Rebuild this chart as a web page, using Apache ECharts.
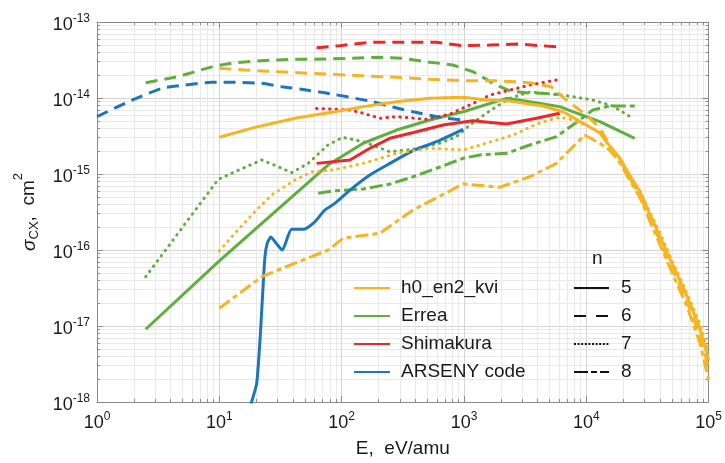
<!DOCTYPE html>
<html>
<head>
<meta charset="utf-8">
<title>Charge-exchange cross sections</title>
<script src="https://cdn.jsdelivr.net/npm/echarts@6/dist/echarts.min.js"></script>
<style>
  html, body { margin: 0; padding: 0; background: #ffffff; }
  #chart { width: 725px; height: 463px; }
</style>
</head>
<body>
<div id="chart"></div>
<script>
// Calculation methods (colour) and principal quantum number n (line style)
const methods = ['h0_en2_kvi', 'Errea', 'Shimakura', 'ARSENY code'];
const levels = ['5', '6', '7', '8'];

// Decade exponents used for the tick labels 10^k
const xExponents = [0, 1, 2, 3, 4, 5];
const yExponents = [-18, -17, -16, -15, -14, -13];

// Cross sections: [E (eV/amu), sigma_CX (cm^2)]
const kvi_n5 = [[10, 3.04e-15], [19.5, 4.11e-15], [41.5, 5.41e-15], [88, 6.6e-15], [150, 7.7e-15],
  [281, 8.9e-15], [526, 9.9e-15], [984, 1.02e-14], [1527, 9.4e-15], [2367, 9.1e-15], [4405, 7.85e-15],
  [6450, 6.6e-15], [1.0e4, 4.41e-15], [1.29e4, 3.46e-15], [1.55e4, 2.34e-15], [1.88e4, 1.62e-15],
  [2.26e4, 9.7e-16], [2.73e4, 5.97e-16], [3.3e4, 2.98e-16], [3.98e4, 1.53e-16], [5.08e4, 6.35e-17],
  [6.58e4, 2.56e-17], [8.44e4, 9.4e-18], [1e5, 3.57e-18]];
const kvi_n6 = [[10, 2.46e-14], [16.2, 2.33e-14], [30.3, 2.22e-14], [56.8, 2.11e-14], [150, 1.96e-14],
  [281, 1.87e-14], [526, 1.76e-14], [984, 1.69e-14], [1842, 1.69e-14], [3451, 1.59e-14], [5150, 1.41e-14],
  [6880, 9.4e-15], [1.0e4, 5.97e-15], [1.29e4, 4.03e-15], [1.55e4, 2.41e-15], [1.88e4, 1.53e-15],
  [2.26e4, 8.86e-16], [2.73e4, 5.29e-16], [3.3e4, 2.64e-16], [3.98e4, 1.35e-16], [5.08e4, 5.45e-17],
  [6.58e4, 2.2e-17], [8.44e4, 7.6e-18], [1e5, 2.8e-18]];
const kvi_n7 = [[10, 9.7e-17], [13.4, 1.66e-16], [19.5, 3.19e-16], [26.7, 5.3e-16], [41.5, 8.3e-16],
  [56.8, 1.07e-15], [84.7, 1.13e-15], [150, 1.38e-15], [281, 1.87e-15], [526, 2.18e-15], [984, 2.07e-15],
  [1527, 2.54e-15], [2518, 3.26e-15], [3911, 4.55e-15], [6063, 5.6e-15], [7740, 5.14e-15],
  [1.07e4, 4.19e-15], [1.29e4, 3.57e-15], [1.55e4, 2.27e-15], [1.88e4, 1.58e-15], [2.26e4, 9.4e-16],
  [2.73e4, 6.16e-16], [3.3e4, 3.16e-16], [3.98e4, 1.72e-16], [5.08e4, 6.95e-17], [6.58e4, 2.8e-17],
  [8.44e4, 1.095e-17], [1e5, 4.55e-18]];
const kvi_n8 = [[10, 1.71e-17], [22.2, 4.45e-17], [41.5, 6.7e-17], [77.6, 1.0e-16], [103, 1.43e-16],
  [205, 1.66e-16], [384, 3.36e-16], [984, 7.4e-16], [1963, 6.7e-16], [3451, 9.2e-16], [5699, 1.38e-15],
  [7316, 2.07e-15], [9700, 3.26e-15], [1.29e4, 2.54e-15], [1.55e4, 2.07e-15], [1.88e4, 1.4e-15],
  [2.26e4, 8.34e-16], [2.73e4, 4.98e-16], [3.3e4, 2.41e-16], [3.98e4, 1.2e-16], [5.08e4, 4.83e-17],
  [6.58e4, 1.89e-17], [8.44e4, 6.16e-18], [1e5, 1.95e-18]];

const errea_n5 = [[2.5, 9.06e-18], [10, 7.2e-17], [77.2, 1.31e-15], [150, 2.54e-15], [281, 3.79e-15],
  [526, 5.14e-15], [984, 6.6e-15], [2225, 9.9e-15], [3451, 8.9e-15], [6063, 7.7e-15], [7740, 6.6e-15],
  [1.29e4, 4.88e-15], [2.49e4, 2.95e-15]];
const errea_n6 = [[2.5, 1.59e-14], [4.59, 1.91e-14], [9.2, 2.64e-14], [13.4, 2.91e-14], [22.2, 3.1e-14],
  [41.5, 3.23e-14], [80, 3.26e-14], [205, 3.44e-14], [316, 3.33e-14], [494, 3.0e-14], [810, 2.72e-14],
  [1180, 2.22e-14], [1527, 1.76e-14], [1718, 1.56e-14], [2367, 1.24e-14], [3243, 1.17e-14],
  [4720, 1.15e-14], [6063, 1.11e-14]];
const errea_n7 = [[2.5, 4.45e-17], [9.8, 8.5e-16], [13.4, 1.07e-15], [22.2, 1.53e-15], [30.3, 1.25e-15],
  [39, 1.04e-15], [53.2, 1.38e-15], [77.2, 2.41e-15], [102, 3.04e-15], [150, 2.66e-15], [248, 1.96e-15],
  [382, 2.11e-15], [634, 2.54e-15], [868, 3.1e-15], [1115, 4.41e-15], [1527, 6.3e-15], [1842, 7.7e-15],
  [2367, 9.9e-15], [3451, 1.2e-14], [5024, 1.13e-14], [7316, 1.06e-14], [1.13e4, 9.4e-15],
  [1.64e4, 7.85e-15], [2.4e4, 5.41e-15]];
const errea_n8 = [[64.3, 5.57e-16], [88, 6.03e-16], [150, 6.35e-16], [248, 7.38e-16], [384, 9.2e-16],
  [596, 1.19e-15], [984, 1.61e-15], [1346, 1.78e-15], [2225, 1.87e-15], [3451, 2.41e-15], [5699, 3.1e-15],
  [8830, 5.14e-15], [1.13e4, 6.95e-15], [1.55e4, 7.85e-15], [2.49e4, 7.85e-15]];

const shim_n5 = [[62.4, 1.38e-15], [117, 1.53e-15], [170, 2.18e-15], [248, 2.95e-15], [409, 3.6e-15],
  [675, 4.41e-15], [1180, 5.03e-15], [2225, 4.55e-15], [3911, 5.41e-15], [6063, 6.3e-15]];
const shim_n6 = [[62.4, 4.59e-14], [96.7, 4.88e-14], [170, 5.41e-14], [596, 5.41e-14], [984, 4.88e-14],
  [1625, 4.97e-14], [2685, 5.13e-14], [5699, 4.73e-14]];
const shim_n7 = [[62.4, 7.3e-15], [117, 6.95e-15], [150, 6.3e-15], [205, 5.41e-15], [281, 5.68e-15],
  [494, 5.25e-15], [766, 6.15e-15], [1115, 8.1e-15], [1625, 1.09e-14], [2367, 1.27e-14],
  [3451, 1.48e-14], [6063, 1.76e-14]];

const arseny_n5 = [[16.8, 5.8e-19], [18.4, 1.01e-18], [20.2, 1.76e-18], [21.5, 6.5e-18], [22.5, 2.33e-17],
  [23.6, 8.2e-17], [24.7, 1.24e-16], [26.4, 1.48e-16], [29, 1.24e-16], [32.7, 1.0e-16], [39, 1.87e-16],
  [48.4, 1.87e-16], [60, 2.33e-16], [72.9, 3.36e-16], [88, 4.11e-16], [117, 6.15e-16], [170, 9.7e-16],
  [248, 1.38e-15], [384, 2.03e-15], [596, 2.66e-15], [984, 3.87e-15]];
const arseny_n6 = [[1, 5.68e-15], [1.8, 8.9e-15], [3.38, 1.34e-14], [5.24, 1.48e-14], [8.65, 1.61e-14],
  [13.4, 1.61e-14], [22.2, 1.56e-14], [32.3, 1.41e-14], [47, 1.3e-14], [72.9, 1.17e-14], [170, 9.1e-15],
  [262, 7.6e-15], [382, 6.6e-15], [596, 5.68e-15], [984, 5.1e-15]];

// Styling
const FONT = '"Liberation Sans", Arial, Helvetica, sans-serif';
const TEXT = '#1a1a1a';
const FRAME = '#8a8a8a';
const colors = ['#F6B422', '#5FAE3E', '#EE2626', '#1C76BE'];
const lineTypes = ['solid', [12, 7], [0.5, 6], [13, 4, 5, 4]];
const legendTypes = ['solid', [12, 10], [2, 1.6], [14, 3, 6, 3]];

const curves = [
  { data: errea_n6, m: 1, n: 1 }, { data: errea_n7, m: 1, n: 2 }, { data: errea_n8, m: 1, n: 3 },
  { data: errea_n5, m: 1, n: 0 },
  { data: arseny_n6, m: 3, n: 1, smooth: 0.2 }, { data: arseny_n5, m: 3, n: 0, smooth: 0.2 },
  { data: shim_n6, m: 2, n: 1 }, { data: shim_n7, m: 2, n: 2 }, { data: shim_n5, m: 2, n: 0 },
  { data: kvi_n8, m: 0, n: 3 }, { data: kvi_n7, m: 0, n: 2 }, { data: kvi_n6, m: 0, n: 1 },
  { data: kvi_n5, m: 0, n: 0 }
];

const series = curves.map((c, i) => ({
  name: methods[c.m] + ' n=' + levels[c.n],
  type: 'line',
  data: c.data,
  xAxisIndex: 0,
  yAxisIndex: 0,
  symbol: 'none',
  showSymbol: false,
  smooth: c.smooth || false,
  clip: true,
  silent: true,
  z: 3 + i * 0.01,
  lineStyle: {
    color: colors[c.m],
    width: 3,
    type: lineTypes[c.n],
    cap: c.n === 2 ? 'round' : 'butt'
  }
}));

// Entries for the two keys: colour per method, line style per n
methods.forEach((m, i) => series.push({
  name: m, type: 'line', data: [], symbol: 'none',
  itemStyle: { color: colors[i] },
  lineStyle: { color: colors[i], width: 3 }
}));
levels.forEach((n, i) => series.push({
  name: n, type: 'line', data: [], symbol: 'none',
  itemStyle: { color: '#111111' },
  lineStyle: { color: '#111111', width: 2.6, type: legendTypes[i] }
}));

const labelRich = {
  b: { fontSize: 18, lineHeight: 18, padding: [6, 0, 0, 0], color: TEXT, fontFamily: FONT },
  s: { fontSize: 12, lineHeight: 12, verticalAlign: 'top', color: TEXT, fontFamily: FONT }
};
const powLabel = v => '{b|10}{s|' + Math.round(Math.log10(v)) + '}';

function logAxis(extra) {
  return Object.assign({
    type: 'log',
    logBase: 10,
    axisLine: { show: true, onZero: false, lineStyle: { color: FRAME, width: 1 } },
    axisTick: { show: true, inside: true, length: 6, lineStyle: { color: FRAME } },
    minorTick: { show: true, splitNumber: 9, length: 3, lineStyle: { color: FRAME } },
    splitLine: { show: false },
    minorSplitLine: { show: false },
    axisLabel: { show: false }
  }, extra);
}

const xMin = Math.pow(10, xExponents[0]), xMax = Math.pow(10, xExponents[xExponents.length - 1]);
const yMin = Math.pow(10, yExponents[0]), yMax = Math.pow(10, yExponents[yExponents.length - 1]);

const keyStyle = {
  orient: 'vertical', top: 278, padding: 0,
  itemHeight: 20, itemGap: 8, selectedMode: false,
  itemStyle: { opacity: 0, borderWidth: 0 }
};

const option = {
  backgroundColor: '#ffffff',
  animation: false,
  grid: { left: 97, right: 16, top: 22, bottom: 61 },
  title: {
    text: 'n', left: 587, top: 244, padding: 5,
    textStyle: { fontSize: 19, fontWeight: 'normal', color: TEXT, fontFamily: FONT }
  },
  legend: [
    Object.assign({
      data: methods, left: 353, itemWidth: 36,
      textStyle: { fontSize: 19, lineHeight: 20, color: TEXT, fontFamily: FONT, padding: [0, 0, 0, 6] }
    }, keyStyle),
    Object.assign({
      data: levels, left: 573, itemWidth: 35,
      textStyle: { fontSize: 19, lineHeight: 20, color: TEXT, fontFamily: FONT, padding: [0, 0, 0, 7] }
    }, keyStyle)
  ],
  xAxis: [
    logAxis({
      min: xMin, max: xMax, position: 'bottom',
      splitLine: { show: true, lineStyle: { color: '#d5d5d5', width: 1 } },
      minorSplitLine: { show: true, lineStyle: { color: '#e9e9e9', width: 1 } },
      axisLabel: { show: true, margin: 9, formatter: powLabel, rich: labelRich },
      name: 'E,  eV/amu', nameLocation: 'middle', nameGap: 37,
      nameTextStyle: { fontSize: 19, color: TEXT, fontFamily: FONT }
    }),
    logAxis({ min: xMin, max: xMax, position: 'top' })
  ],
  yAxis: [
    logAxis({
      min: yMin, max: yMax, position: 'left',
      splitLine: { show: true, lineStyle: { color: '#d5d5d5', width: 1 } },
      minorSplitLine: { show: true, lineStyle: { color: '#e9e9e9', width: 1 } },
      axisLabel: { show: true, margin: 7, formatter: powLabel, rich: labelRich },
      name: '{g|σ}{sub|CX}{t|,  cm}{sup|2}',
      nameLocation: 'middle', nameRotate: 90, nameGap: 56,
      nameTextStyle: {
        color: TEXT, fontFamily: FONT,
        rich: {
          g: { fontSize: 19, lineHeight: 19, padding: [8, 0, 3, 0], fontStyle: 'italic', color: TEXT, fontFamily: FONT },
          sub: { fontSize: 13, lineHeight: 13, padding: [16, 0, 0, 0], color: TEXT, fontFamily: FONT },
          t: { fontSize: 19, lineHeight: 19, padding: [8, 0, 3, 0], color: TEXT, fontFamily: FONT },
          sup: { fontSize: 13, lineHeight: 13, padding: [0, 0, 16, 0], color: TEXT, fontFamily: FONT }
        }
      }
    }),
    logAxis({ min: yMin, max: yMax, position: 'right' })
  ],
  series: series
};

const chart = echarts.init(document.getElementById('chart'));
chart.setOption(option);
</script>
</body>
</html>
